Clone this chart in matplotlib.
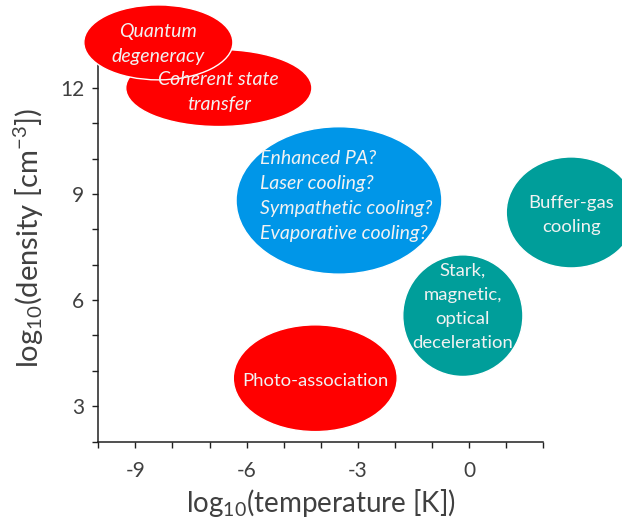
import matplotlib
matplotlib.use("Agg")
import matplotlib.pyplot as plt
from matplotlib.patches import Ellipse
from matplotlib.ticker import MultipleLocator

plt.rcParams['font.family'] = ['Lato', 'DejaVu Sans']
plt.rcParams['mathtext.fontset'] = 'custom'
plt.rcParams['mathtext.rm'] = 'Lato'
plt.rcParams['mathtext.it'] = 'Lato:italic'
plt.rcParams['axes.unicode_minus'] = False

# regions: centre (log10 T, log10 n), width, height
labels = ['Coherent state\ntransfer', 'Quantum\ndegeneracy',
          'Enhanced PA?\nLaser cooling?\nSympathetic cooling?\nEvaporative cooling?',
          'Buffer-gas\ncooling', 'Stark,\nmagnetic,\noptical\ndeceleration',
          'Photo-association']
x_center = [-6.75, -8.38, -3.51, 2.75, -0.17, -4.15]
y_center = [12.0, 13.29, 8.82, 8.48, 5.56, 3.79]
widths = [5.02, 4.02, 5.55, 3.5, 3.24, 4.42]
heights = [2.18, 2.12, 4.17, 3.14, 3.44, 3.02]
kinds = ['red', 'red', 'blue', 'teal', 'teal', 'red']
italic = [True, True, True, False, False, False]

colors = {'red': '#FF0000', 'blue': '#0096E8', 'teal': '#009E9A'}
# small nudges of the text inside each ellipse (data units)
text_dx = [0, 0, 0.2, 0, 0, 0]
text_dy = [-0.12, -0.05, 0.12, -0.08, 0.25, -0.08]

fig = plt.figure(figsize=(6.22, 5.19), dpi=100)
ax = fig.add_axes([0.158, 0.1493, 0.7155, 0.7833])

for i in range(len(labels)):
    e = Ellipse((x_center[i], y_center[i]), widths[i], heights[i],
                facecolor=colors[kinds[i]], edgecolor='white', linewidth=1,
                zorder=5 + i, clip_on=False)
    ax.add_patch(e)
    ax.text(x_center[i] + text_dx[i], y_center[i] + text_dy[i], labels[i],
            ha='center', va='center',
            multialignment='left' if kinds[i] == 'blue' else 'center',
            color='#F2F2F2',
            fontsize=14 if italic[i] else 13.3,
            linespacing=1.58 if italic[i] else 1.62,
            style='italic' if italic[i] else 'normal', zorder=20 + i)

ax.set_xlim(-10, 2)
ax.set_ylim(2, 13.5)
ax.xaxis.set_minor_locator(MultipleLocator(1))
ax.yaxis.set_minor_locator(MultipleLocator(1))
ax.set_xticks([-9, -6, -3, 0])
ax.set_yticks([3, 6, 9, 12])

for s in ['top', 'right']:
    ax.spines[s].set_visible(False)
for s in ['left', 'bottom']:
    ax.spines[s].set_color('#202020')
    ax.spines[s].set_linewidth(1.1)

ax.tick_params(which='both', direction='out', length=4, width=1,
               color='#202020', labelcolor='#404040', labelsize=15)
ax.tick_params(axis='x', pad=10)
ax.tick_params(axis='y', pad=6)

ax.set_xlabel(r'log$_{10}$(temperature [K])', fontsize=20, color='#404040', labelpad=4)
ax.set_ylabel(r'log$_{10}$(density [cm$^{-3}$])', fontsize=21, color='#404040', labelpad=10)

fig.savefig('out.png', dpi=100)
